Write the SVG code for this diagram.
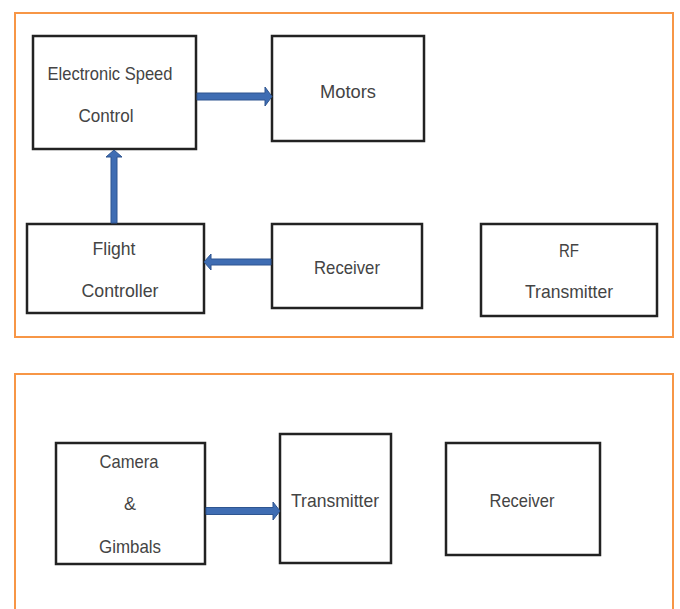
<svg xmlns="http://www.w3.org/2000/svg" width="680" height="609" viewBox="0 0 680 609">
<defs>
<style>
.frame{fill:none;stroke:#F79646;stroke-width:2}
.box{fill:#fff;stroke:#222;stroke-width:2.5}
.t{font-family:"Liberation Sans",Arial,sans-serif;font-size:19px;fill:#444;text-anchor:middle}
.arr{fill:#3F6DB3;stroke:#2E5590;stroke-width:1}
</style>
</defs>
<rect width="680" height="609" fill="#fff"/>
<rect class="frame" x="15" y="13" width="658" height="324"/>
<rect class="frame" x="15" y="374" width="658" height="240"/>
<g id="esc"><rect class="box" x="33" y="36" width="163" height="113"/><text class="t" x="110" y="80" textLength="125" lengthAdjust="spacingAndGlyphs">Electronic Speed</text><text class="t" x="106" y="122" textLength="55" lengthAdjust="spacingAndGlyphs">Control</text></g>
<g id="motors"><rect class="box" x="272" y="36" width="152" height="105"/><text class="t" x="348" y="98" textLength="56" lengthAdjust="spacingAndGlyphs">Motors</text></g>
<g id="fc"><rect class="box" x="27" y="224" width="177" height="89"/><text class="t" x="114" y="255" textLength="43" lengthAdjust="spacingAndGlyphs">Flight</text><text class="t" x="120" y="297" textLength="77" lengthAdjust="spacingAndGlyphs">Controller</text></g>
<g id="receiver1"><rect class="box" x="272" y="224" width="150" height="84"/><text class="t" x="347" y="274" textLength="66" lengthAdjust="spacingAndGlyphs">Receiver</text></g>
<g id="rf"><rect class="box" x="481" y="224" width="176" height="92"/><text class="t" x="569" y="257" textLength="20" lengthAdjust="spacingAndGlyphs">RF</text><text class="t" x="569" y="298" textLength="88" lengthAdjust="spacingAndGlyphs">Transmitter</text></g>
<g id="camera"><rect class="box" x="56" y="443" width="149" height="121"/><text class="t" x="129" y="468" textLength="59" lengthAdjust="spacingAndGlyphs">Camera</text><text class="t" x="130" y="510" textLength="12" lengthAdjust="spacingAndGlyphs">&amp;</text><text class="t" x="130" y="553" textLength="62" lengthAdjust="spacingAndGlyphs">Gimbals</text></g>
<g id="transmitter"><rect class="box" x="280" y="434" width="111" height="129"/><text class="t" x="335" y="507" textLength="88" lengthAdjust="spacingAndGlyphs">Transmitter</text></g>
<g id="receiver2"><rect class="box" x="446" y="443" width="154" height="112"/><text class="t" x="522" y="507" textLength="65" lengthAdjust="spacingAndGlyphs">Receiver</text></g>
<g id="connectors">
<path class="arr" d="M197 93 H265 V87 L272 96.5 L265 106 V100 H197 Z"/>
<path class="arr" d="M111 223 V157 H106 L114 150 L122 157 H117 V223 Z"/>
<path class="arr" d="M271 259 H211 V254 L204 262 L211 270 V265 H271 Z"/>
<path class="arr" d="M206 507.5 H273 V502 L280 511 L273 520 V514.5 H206 Z"/>
</g>
</svg>
